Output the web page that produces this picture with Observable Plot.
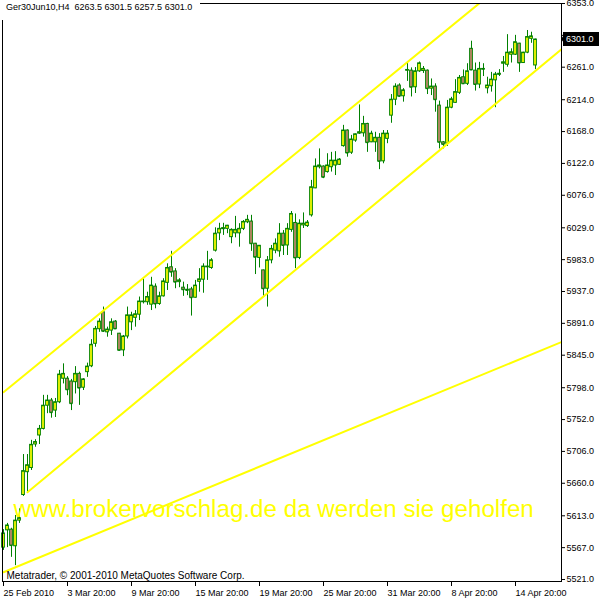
<!DOCTYPE html>
<html><head><meta charset="utf-8">
<script src="https://cdn.jsdelivr.net/npm/d3@7"></script>
<script src="https://cdn.jsdelivr.net/npm/@observablehq/plot@0.6"></script>
<style>body{margin:0;background:#fff} svg{display:block}</style>
</head><body><div id="chart"></div>
<script>
const opens = [
5567,5592,5593,5569,5606,5643,5676,5682,5716,5729,
5738.5,5772,5779.5,5765,5777,5811,5811,5807,5806,5818,
5798,5820.5,5829,5861.5,5882.5,5907,5878,5880.5,5893.5,5876,
5852,5872,5892.5,5899,5903.5,5921.5,5921.5,5918,5944,5919,
5930,5949.5,5972,5966,5950.5,5942.5,5939.5,5940,5928,5951,
5954,5972,5971,5996,6021,6027,6027.5,6015.5,6021,6021,
6027.5,6037,6038,6006,5985.5,5967.5,5941,5982,5996,5995,
6020.5,6003.5,6026,6036,5985.5,6032.5,6031.5,6047,6086,6116.5,
6117.5,6109.5,6116.5,6119,6120,6147,6169.5,6137.5,6155,6165,
6165.5,6179,6152.5,6152.5,6159,6125,6157.5,6191,6214,6234.5,
6219,6256,6256,6232,6255,6255.5,6256,6230,6233,6205.5,
6152.5,6150.5,6202.5,6209.5,6224,6246.5,6237,6287.5,6256,6236,
6257.5,6230.5,6233.5,6242,6250,6266,6264.5,6279,6279,6295,
6267,6282,6302,6263.5];
const highs = [
5593,5602,5595,5613.5,5623,5701.5,5701.5,5722,5723,5743.5,
5787,5787,5782.5,5782.5,5823,5832.5,5814,5810,5828.5,5820.5,
5811,5833.5,5867.5,5886.5,5897.5,5914.5,5885.5,5897.5,5895,5876.5,
5873.5,5914.5,5907,5909.5,5929,5955.5,5936,5957.5,5948,5936,
5955.5,5977,5995,5970,5955.5,5950.5,5947,5943,5953,5970,
5977,5995,5984.5,6029,6035.5,6035.5,6032.5,6027.5,6045.5,6035,
6039.5,6047,6047,6006.5,6003.5,5968,5987.5,6003.5,6013,6035,
6025,6035,6052.5,6049,6040.5,6050.5,6039.5,6097.5,6128.5,6143,
6118.5,6136,6138,6139,6129,6177,6170.5,6162.5,6164.5,6206.5,
6190,6180,6168.5,6167,6165,6169.5,6169.5,6221.5,6237,6237,
6230,6268,6260,6260.5,6268.5,6262,6257,6244,6237,6212,
6153.5,6213,6217.5,6243,6249,6257,6266,6298.5,6267,6268,
6266,6246.5,6253.5,6253.5,6257.5,6276.5,6308,6287.5,6307,6295.5,
6282.5,6314,6311.5,6301.5];
const lows = [
5563,5567,5553,5541,5602,5641,5647,5678.5,5712,5716,
5737,5760.5,5754,5755,5775,5803.5,5786.5,5765,5789,5772.5,
5794,5813,5827,5856.5,5878,5878,5871,5873.5,5882,5851,
5843,5868.5,5880.5,5885.5,5895,5919,5917,5909.5,5912,5917,
5929,5938.5,5957.5,5941,5942.5,5930,5931,5901.5,5927.5,5936,
5934.5,5953,5969,5994,6010.5,6018,6020.5,6006,6014.5,6001,
6025,6035,5995,5961.5,5971,5929,5914.5,5977,5991.5,5986.5,
5989,5989,6022.5,5970,5983,6028,6029.5,6044.5,6085.5,6114,
6100,6108,6109.5,6104.5,6119,6145.5,6131,6135,6152.5,6164,
6160,6138,6152,6138,6113,6121.5,6150.5,6180,6205.5,6217.5,
6210.5,6240.5,6218,6223,6253.5,6252,6221.5,6220,6196,6143,
6143,6146.5,6201,6209,6221.5,6236,6234.5,6256,6226.5,6230,
6247.5,6222.5,6225,6202.5,6247.5,6253.5,6261,6267,6278,6253.5,
6266.5,6280.5,6295.5,6257.5];
const closes = [
5587.5,5599,5570,5606,5609.5,5677.5,5686,5715.5,5719.5,5738.5,
5772,5779.5,5762,5777,5817,5818,5795,5775,5818,5797.5,
5810,5828.5,5860,5883,5893.5,5879.5,5882,5892.5,5883,5852,
5872,5902.5,5902.5,5904,5922.5,5922.5,5929,5945.5,5919,5930,
5951.5,5971,5965,5950.5,5953,5939.5,5938.5,5928,5945.5,5954.5,
5973,5973,5982,6020.5,6027.5,6028.5,6032,6026,6026,6027.5,
6037.5,6040.5,6006,5986.5,6003,5941,5982,5998.5,6006,6020.5,
6003.5,6027.5,6049,5985.5,6035,6035,6036.5,6087.5,6117.5,6119,
6102,6119,6126,6126,6127.5,6169.5,6137,6156.5,6164,6167,
6179,6152,6165,6159,6125,6165,6165,6214,6233,6219,
6227.5,6257,6232,6255,6266.5,6258.5,6230,6233,6214,6152.5,
6149.5,6202.5,6214.5,6225,6245.5,6237,6255,6257,6236,6258.5,
6258.5,6234.5,6243,6250.5,6251.5,6268,6282,6282.5,6297,6267,
6282,6304.5,6305.5,6301];

const xTickIndex = [0,16,32,48,64,80,96,112,128];
const xTickLabels = ["25 Feb 2010","3 Mar 20:00","9 Mar 20:00","15 Mar 20:00","19 Mar 20:00","25 Mar 20:00","31 Mar 20:00","8 Apr 20:00","14 Apr 20:00"];
const yTicks = [5521,5567,5613,5660,5706,5752,5798,5845,5891,5937,5983,6029,6076,6122,6168,6214,6261,6307,6353];

const upperLine = [[0,5791.5],[119,6353.5]];
const lowerLine = [[6,5647],[139.5,6287]];
const baseLine  = [[0,5531.5],[139.5,5864]];

const symbol = "Ger30Jun10,H4";
const lastBar = {o: 6263.5, h: 6301.5, l: 6257.5, c: 6301.0};
const watermark = "www.brokervorschlag.de da werden sie geholfen";
const copyright = "Metatrader, \u00A9 2001-2010 MetaQuotes Software Corp.";

const GREEN = "#008000", BULL = "#ffff00", BEAR = "#c8866e", LINE = "#ffff00";
const bars = opens.map((o, i) => ({i, o, h: highs[i], l: lows[i], c: closes[i], up: closes[i] >= o}));
const header = `${symbol}  ${lastBar.o.toFixed(1)} ${lastBar.h.toFixed(1)} ${lastBar.l.toFixed(1)} ${lastBar.c.toFixed(1)}`;
const hw = 0.34;

const chart = Plot.plot({
  width: 600, height: 600,
  marginLeft: 2, marginRight: 39, marginTop: 3, marginBottom: 19,
  style: {fontFamily: "'Liberation Sans', Arial, sans-serif", fontSize: "9px", background: "#fff", color: "#000", overflow: "visible"},
  x: {domain: [-0.25, 139.5], axis: null, label: null},
  y: {domain: [5518.1, 6353], axis: null, label: null},
  marks: [
    Plot.ruleX(bars, {x: "i", y1: "l", y2: "h", stroke: GREEN, strokeWidth: 1}),
    Plot.rect(bars, {x1: d => d.i - hw, x2: d => d.i + hw, y1: "o", y2: "c", fill: d => d.up ? BULL : BEAR, stroke: GREEN, strokeWidth: 1}),
    Plot.ruleY(bars, {y: "c", x1: d => d.i - hw, x2: d => d.i + hw, stroke: GREEN, strokeWidth: 1}),
    Plot.line(upperLine, {x: d => d[0], y: d => d[1], stroke: LINE, strokeWidth: 2, clip: true}),
    Plot.line(lowerLine, {x: d => d[0], y: d => d[1], stroke: LINE, strokeWidth: 2, clip: true}),
    Plot.line(baseLine, {x: d => d[0], y: d => d[1], stroke: LINE, strokeWidth: 2, clip: true}),
    Plot.text([watermark], {frameAnchor: "top-left", textAnchor: "start", lineAnchor: "middle", dx: 11, dy: 506, fill: LINE, fontSize: 24.2}),
    Plot.frame({stroke: "#000", strokeWidth: 1}),
    Plot.axisY(yTicks, {anchor: "right", tickSize: 3, tickPadding: 2, tickFormat: d => d.toFixed(1), fontSize: 9, label: null}),
    Plot.axisX(xTickIndex, {anchor: "bottom", tickSize: 5, tickPadding: 3, tickFormat: d => xTickLabels[xTickIndex.indexOf(d)], textAnchor: "start", dx: 0, fontSize: 9, label: null}),
    Plot.text([copyright], {frameAnchor: "bottom-left", textAnchor: "start", lineAnchor: "middle", dx: 4, dy: -6, fill: "#000", fontSize: 10})
  ]
});

const svg = d3.select(chart);
// white box behind the header
svg.append("rect").attr("x", 0).attr("y", 0).attr("width", 200).attr("height", 20).attr("fill", "#fff");
svg.append("text").attr("x", 6).attr("y", 10).attr("font-size", 9).attr("fill", "#000")
  .attr("text-anchor", "start").style("white-space", "pre").attr("xml:space", "preserve").text(header);
// current price marker on the price axis
const yp = chart.scale("y").apply(lastBar.c);
const g = svg.append("g");
g.append("path").attr("d", `M561,${yp} L564,${yp - 4} L564,${yp + 4} Z`).attr("fill", "#000");
g.append("rect").attr("x", 563).attr("y", yp - 7).attr("width", 36).attr("height", 14).attr("fill", "#000");
g.append("text").attr("x", 566).attr("y", yp + 3.2).attr("font-size", 9).attr("fill", "#fff")
  .attr("text-anchor", "start").text(lastBar.c.toFixed(1));

document.getElementById("chart").appendChild(chart);
</script>
</body></html>
